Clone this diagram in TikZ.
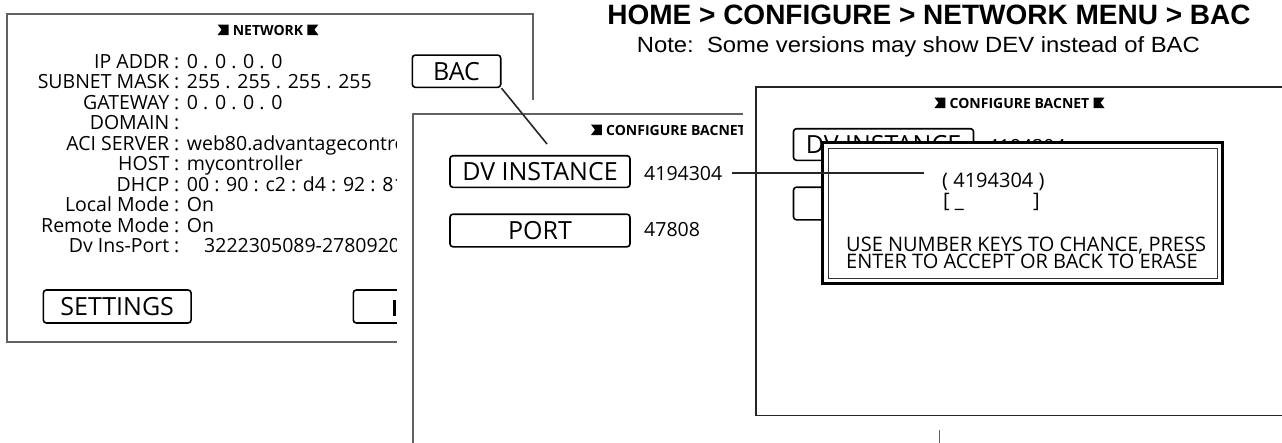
\documentclass[tikz,border=0pt]{standalone}
\usepackage{graphicx}
\usepackage{fontspec}
\newfontfamily\scrfont{Open Sans}
\newfontfamily\arialfont{Liberation Sans}
\newcommand\fsz[1]{\fontsize{#1}{#1}\selectfont}
\newcommand\ribL[1]{\fill ([xshift=-4pt]#1) -- ++(-11,0) -- ++(4,-5.25) -- ++(-4,-5.25) -- ++(11,0) -- cycle;}
\newcommand\ribR[1]{\fill ([xshift=4pt]#1) -- ++(11,0) -- ++(-4,-5.25) -- ++(4,-5.25) -- ++(-11,0) -- cycle;}
\begin{document}
\begin{tikzpicture}[x=1pt,y=-1pt,
  scrborder/.style={draw=black!62, line width=1.1pt},
  lab/.style={inner sep=0pt, anchor=base east, font=\scrfont\fsz{19.5}},
  val/.style={inner sep=0pt, anchor=base west, font=\scrfont\fsz{19.5}},
  colon/.style={inner sep=0pt, anchor=base, font=\scrfont\fsz{19.5}},
  btn/.style={draw, line width=1.6pt, rounded corners=3pt, inner sep=0pt, font=\scrfont\fsz{25}, text height=18pt, text depth=0pt},
  hdr/.style={inner sep=0pt, anchor=base, font=\scrfont\bfseries\fsz{14}},
  pop/.style={inner sep=0pt, anchor=base west, font=\scrfont\fsz{20}},
  conn/.style={line width=1.4pt, black!85},
]
\useasboundingbox (0,0) rectangle (1282,442);
\fill[white] (0,0) rectangle (1282,442);

% ---------- screen 1 ----------
\draw[scrborder] (7,14) rectangle (533,342);
\node[hdr] (h1) at (268,35) {NETWORK};
\ribL{h1.base west}
\ribR{h1.base east}
\node[lab] (l1) at (169.5,68) {IP ADDR};
\node[colon] (c1) at (176.7,68) {:};
\node[val] (w1) at (186.7,68) {0 . 0 . 0 . 0};
\node[lab] (l2) at (169.5,88.5) {SUBNET MASK};
\node[colon] (c2) at (176.7,88.5) {:};
\node[val] (w2) at (186.7,88.5) {255 . 255 . 255 . 255};
\node[lab] (l3) at (169.5,109) {GATEWAY};
\node[colon] (c3) at (176.7,109) {:};
\node[val] (w3) at (186.7,109) {0 . 0 . 0 . 0};
\node[lab] (l4) at (169.5,129.5) {DOMAIN};
\node[colon] (c4) at (176.7,129.5) {:};
\node[lab] (l5) at (169.5,150) {ACI SERVER};
\node[colon] (c5) at (176.7,150) {:};
\node[val] (w5) at (186.7,150) {web80.advantagecontro};
\node[lab] (l6) at (169.5,170.5) {HOST};
\node[colon] (c6) at (176.7,170.5) {:};
\node[val] (w6) at (186.7,170.5) {mycontroller};
\node[lab] (l7) at (169.5,191) {DHCP};
\node[colon] (c7) at (176.7,191) {:};
\node[val] (w7) at (186.7,191) {00 : 90 : c2 : d4 : 92 : 81};
\node[lab] (l8) at (169.5,211.5) {Local Mode};
\node[colon] (c8) at (176.7,211.5) {:};
\node[val] (w8) at (186.7,211.5) {On};
\node[lab] (l9) at (169.5,232) {Remote Mode};
\node[colon] (c9) at (176.7,232) {:};
\node[val] (w9) at (186.7,232) {On};
\node[lab] (l10) at (169.5,252.5) {Dv Ins-Port};
\node[colon] (c10) at (176.7,252.5) {:};
\node[val] (w10) at (204,252.5) {3222305089-2780920};
\node[btn, minimum width=147.7pt, minimum height=33pt] (set) at (117.2,306.5) {SETTINGS};
\draw[line width=1.6pt, rounded corners=3pt] (353.3,290) rectangle (430,323);
\fill (393,300) rectangle (395.6,315.5);
\node[btn, minimum width=88.4pt, minimum height=32.3pt] (bac) at (456.5,71.2) {BAC};

% ---------- screen 2 ----------
\fill[white] (397,100) rectangle (960,450);
\draw[scrborder] (413,114) rectangle (939.5,450);
\node[hdr] (h2) at (676,135) {CONFIGURE BACNET};
\ribL{h2.base west}
\ribR{h2.base east}
\node[btn, minimum width=180pt, minimum height=31.6pt] (dv2) at (540,171.5) {DV INSTANCE};
\node[btn, minimum width=180pt, minimum height=32.6pt] (port2) at (540,230.5) {PORT};
\node[val] (v2) at (644,180) {4194304};
\node[val] (p2) at (644,236.7) {47808};

\coordinate (bacend) at (547,144);
\draw[conn, line width=1.6pt] (bac.south east) -- (bacend);

% ---------- screen 3 ----------
\fill[white] (743,73) rectangle (1290,430);
\draw[scrborder, draw=black!85] (756,87) rectangle (1300,415.5);
\node[hdr] (h3) at (1019.5,108) {CONFIGURE BACNET};
\ribL{h3.base west}
\ribR{h3.base east}
\node[btn, minimum width=180pt, minimum height=31.6pt] (dv3) at (883.5,144.5) {DV INSTANCE};
\node[btn, minimum width=180pt, minimum height=32.6pt] (port3) at (883.5,203.5) {};
\node[val] (v3) at (987.5,153) {4194304};

% popup
\draw[line width=3pt, fill=white] (822,142.3) rectangle (1222.5,283.5);
\draw[line width=1pt, black!80] (828,148) rectangle (1217,278);
\node[pop] (pv) at (942,187) {( 4194304 )};
\node[pop] (pb) at (943,207) {[ \_};
\node[pop, anchor=base east] (pe) at (1040,207) {]};
\node[pop] (m1) at (846,251) {USE NUMBER KEYS TO CHANCE, PRESS};
\node[pop] (m2) at (846,268.5) {ENTER TO ACCEPT OR BACK TO ERASE};

\draw[conn, shorten <=10pt, shorten >=18pt] (v2.east) -- (v2.east -| pv.west);

% ---------- titles ----------
\node[inner sep=0pt, anchor=base, font=\arialfont\bfseries\fsz{28}] (title) at (929,24.5) {HOME > CONFIGURE > NETWORK MENU > BAC};
\node[inner sep=0pt, anchor=base, font=\arialfont\fsz{22}] (note) at (918.4,52) {\resizebox{563pt}{\height}{Note:\ \ Some versions may show DEV instead of BAC}};
\end{tikzpicture}
\end{document}
